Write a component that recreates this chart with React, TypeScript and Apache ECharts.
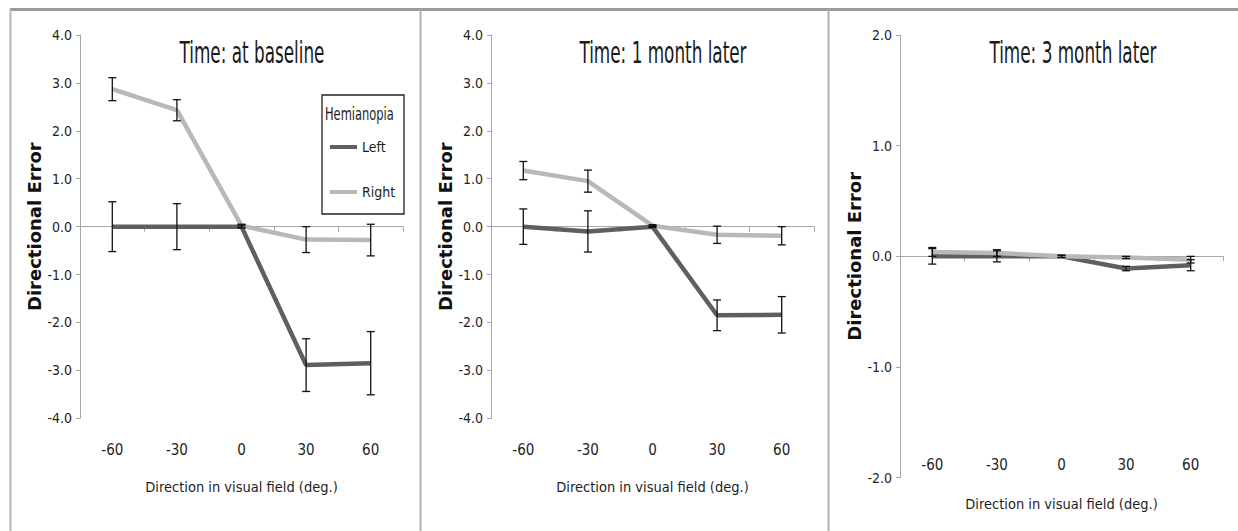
import React, { useEffect, useRef } from "react";
import * as echarts from "echarts";

const categories = ["-60", "-30", "0", "30", "60"];

const baselineLeft = [0.0, 0.0, 0.0, -2.89, -2.85];
const baselineLeftErr = [0.52, 0.48, 0.03, 0.55, 0.66];
const baselineRight = [2.87, 2.43, 0.02, -0.27, -0.28];
const baselineRightErr = [0.24, 0.22, 0.03, 0.27, 0.33];

const month1Left = [0.0, -0.1, 0.0, -1.85, -1.84];
const month1LeftErr = [0.37, 0.43, 0.02, 0.32, 0.38];
const month1Right = [1.17, 0.95, 0.02, -0.17, -0.19];
const month1RightErr = [0.19, 0.23, 0.02, 0.18, 0.19];

const month3Left = [0.0, 0.0, 0.0, -0.11, -0.08];
const month3LeftErr = [0.07, 0.05, 0.01, 0.02, 0.05];
const month3Right = [0.04, 0.03, 0.0, -0.01, -0.03];
const month3RightErr = [0.04, 0.03, 0.01, 0.01, 0.03];

const panelTitles = ["Time: at baseline", "Time: 1 month later", "Time: 3 month later"];
const seriesNames = ["Left", "Right"];
const legendTitle = "Hemianopia";
const xTitle = "Direction in visual field (deg.)";
const yTitle = "Directional Error";

const NARROW = "'Liberation Sans Narrow', 'DejaVu Sans Condensed', 'Open Sans', sans-serif";
const LEFT_COLOR = "#5f5f5f";
const RIGHT_COLOR = "#b8b8b8";
const AXIS_COLOR = "#a8a8a8";
const TEXT_COLOR = "#1e1e1e";

function errData(vals: number[], errs: number[]) {
  return vals.map((v, i) => [i, v - errs[i], v + errs[i]]);
}

const errRender = (params: any, api: any) => {
  const x = api.value(0);
  const lo = api.coord([x, api.value(1)]);
  const hi = api.coord([x, api.value(2)]);
  const w = 4;
  const st = { stroke: "#111", lineWidth: 1.3 };
  return {
    type: "group",
    children: [
      { type: "line", shape: { x1: hi[0], y1: hi[1], x2: lo[0], y2: lo[1] }, style: st },
      { type: "line", shape: { x1: hi[0] - w, y1: hi[1], x2: hi[0] + w, y2: hi[1] }, style: st },
      { type: "line", shape: { x1: lo[0] - w, y1: lo[1], x2: lo[0] + w, y2: lo[1] }, style: st },
    ],
  };
};

export default function App() {
  const ref = useRef<HTMLDivElement>(null);
  useEffect(() => {
    document.body.style.margin = "0";
    if (!ref.current) return;
    const chart = echarts.init(ref.current, undefined, { renderer: "svg" });

    const grids = [
      { left: 80, top: 35, width: 323, height: 383.3, outerBoundsMode: "none", containLabel: false },
      { left: 491, top: 35, width: 323, height: 383.3, outerBoundsMode: "none", containLabel: false },
      { left: 900, top: 35, width: 323, height: 442.7, outerBoundsMode: "none", containLabel: false },
    ];
    const labelMargins = [24, 24, -20];
    const nameGaps = [61, 61, 19];
    const yNameGaps = [33, 33, 35];
    const yRanges = [
      [-4, 4],
      [-4, 4],
      [-2, 2],
    ];

    // label axes at the bottom of each grid (labels + name only)
    const labelAxes = grids.map((_, i) => ({
      type: "category",
      gridIndex: i,
      data: categories,
      boundaryGap: true,
      position: "bottom",
      axisLine: { show: false, onZero: false },
      axisTick: { show: false },
      axisLabel: { margin: labelMargins[i], fontFamily: NARROW, fontSize: 15, color: TEXT_COLOR },
      name: xTitle,
      nameLocation: "middle",
      nameGap: nameGaps[i],
      nameTextStyle: { fontFamily: NARROW, fontSize: 14.5, color: TEXT_COLOR },
      splitLine: { show: false },
    }));
    // zero-line axes (line + ticks only)
    const zeroAxes = grids.map((_, i) => ({
      type: "category",
      gridIndex: i,
      data: categories,
      boundaryGap: true,
      position: "bottom",
      axisLine: { show: true, onZero: true, onZeroAxisIndex: i, lineStyle: { color: AXIS_COLOR, width: 1 } },
      axisTick: { show: true, length: 5, lineStyle: { color: AXIS_COLOR } },
      axisLabel: { show: false },
      splitLine: { show: false },
    }));

    const yAxes = grids.map((_, i) => ({
      type: "value",
      gridIndex: i,
      min: yRanges[i][0],
      max: yRanges[i][1],
      interval: 1,
      axisLine: { show: true, onZero: false, lineStyle: { color: AXIS_COLOR, width: 1 } },
      axisTick: { show: true, length: 4, lineStyle: { color: AXIS_COLOR } },
      axisLabel: {
        margin: 8,
        fontFamily: NARROW,
        fontSize: 14,
        color: TEXT_COLOR,
        formatter: (v: number) => v.toFixed(1),
      },
      splitLine: { show: false },
      name: yTitle,
      nameLocation: "middle",
      nameGap: yNameGaps[i],
      nameRotate: 90,
      nameTextStyle: { fontFamily: "'DejaVu Sans', sans-serif", fontWeight: "bold", fontSize: 18, color: "#111" },
    }));

    const panels = [
      [baselineLeft, baselineLeftErr, baselineRight, baselineRightErr],
      [month1Left, month1LeftErr, month1Right, month1RightErr],
      [month3Left, month3LeftErr, month3Right, month3RightErr],
    ];

    const series: any[] = [];
    panels.forEach((p, i) => {
      series.push({
        name: seriesNames[0],
        type: "line",
        xAxisIndex: i,
        yAxisIndex: i,
        data: p[0],
        color: LEFT_COLOR,
        symbol: "none",
        lineStyle: { width: 4.5, color: LEFT_COLOR },
        z: 2,
      });
      series.push({
        name: seriesNames[1],
        type: "line",
        xAxisIndex: i,
        yAxisIndex: i,
        data: p[2],
        color: RIGHT_COLOR,
        symbol: "none",
        lineStyle: { width: 4.5, color: RIGHT_COLOR },
        z: 2,
      });
      series.push({
        type: "custom",
        xAxisIndex: i,
        yAxisIndex: i,
        data: errData(p[0], p[1]),
        renderItem: errRender,
        z: 3,
      });
      series.push({
        type: "custom",
        xAxisIndex: i,
        yAxisIndex: i,
        data: errData(p[2], p[3]),
        renderItem: errRender,
        z: 3,
      });
    });

    const titleX = [252, 663, 1073];

    chart.setOption({
      animation: false,
      backgroundColor: "#ffffff",
      grid: grids,
      xAxis: [...labelAxes, ...zeroAxes],
      yAxis: yAxes,
      series,
      legend: {
        data: seriesNames,
        orient: "vertical",
        left: 330,
        top: 139,
        padding: 0,
        itemWidth: 27,
        itemHeight: 4,
        itemGap: 29,
        icon: "rect",
        textStyle: { fontFamily: NARROW, fontSize: 14, color: TEXT_COLOR, lineHeight: 16 },
        z: 5,
      },
      graphic: [
        { type: "line", shape: { x1: 10, y1: 9.5, x2: 1238, y2: 9.5 }, style: { stroke: "#9a9a9a", lineWidth: 3 } },
        { type: "line", shape: { x1: 10.5, y1: 9, x2: 10.5, y2: 531 }, style: { stroke: "#b5b5b5", lineWidth: 2 } },
        { type: "line", shape: { x1: 420.5, y1: 9, x2: 420.5, y2: 531 }, style: { stroke: "#b0b0b0", lineWidth: 2 } },
        { type: "line", shape: { x1: 828.5, y1: 9, x2: 828.5, y2: 531 }, style: { stroke: "#b0b0b0", lineWidth: 2 } },
        ...panelTitles.map((t, i) => ({
          type: "text",
          x: titleX[i],
          y: 52.5,
          scaleX: 0.78,
          scaleY: 1.28,
          style: {
            text: t,
            fontFamily: NARROW,
            fontSize: 24,
            fill: "#1a1a1a",
            align: "center",
            verticalAlign: "middle",
          },
        })),
        {
          type: "rect",
          shape: { x: 322, y: 95, width: 82, height: 119 },
          style: { fill: "#fff", stroke: "#222", lineWidth: 1.3 },
          z: 1,
        },
        {
          type: "text",
          x: 325,
          y: 114.5,
          scaleX: 0.85,
          scaleY: 1.15,
          style: {
            text: legendTitle,
            fontFamily: NARROW,
            fontSize: 15,
            fill: TEXT_COLOR,
            verticalAlign: "middle",
          },
          z: 2,
        },
      ],
    });
    return () => chart.dispose();
  }, []);
  return <div ref={ref} style={{ width: 1238, height: 531 }} />;
}
